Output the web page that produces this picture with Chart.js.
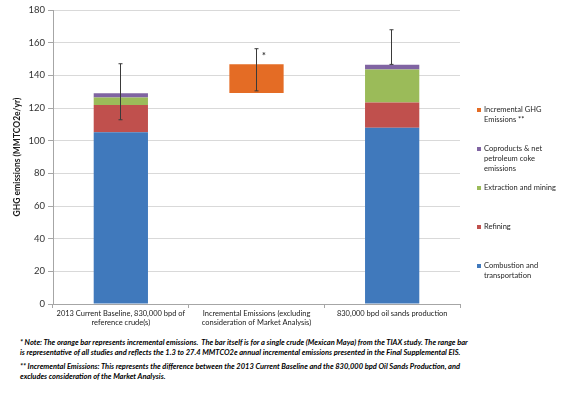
<!DOCTYPE html>
<html><head><meta charset="utf-8">
<script src="https://cdn.jsdelivr.net/npm/chart.js@4/dist/chart.umd.min.js"></script>
<style>
html,body{margin:0;padding:0;background:#fff;}
body{width:577px;height:399px;position:relative;overflow:hidden;font-family:Lato,"Open Sans",sans-serif;}
#wrap{position:absolute;left:0;top:0;width:577px;height:330px;}
.lg{position:absolute;left:484px;font-size:7.5px;line-height:10px;color:#1f1f1f;white-space:nowrap;}
.sw{position:absolute;left:-7px;top:3px;width:4px;height:4px;}
.fn{position:absolute;left:20px;font-size:7.5px;line-height:10px;font-style:italic;font-weight:bold;color:#000;white-space:nowrap;}
</style></head>
<body>
<div id="wrap"><canvas id="c"></canvas></div>
<div id="legend"></div>
<div class="fn" style="top:338px">* Note: The orange bar represents incremental emissions.&nbsp; The bar itself is for a single crude (Mexican Maya) from the TIAX study. The range bar<br>is representative of all studies and reflects the 1.3 to 27.4 MMTCO2e annual incremental emissions presented in the Final Supplemental EIS.</div>
<div class="fn" style="top:362px">** Incremental Emissions: This represents the difference between the 2013 Current Baseline and the 830,000 bpd Oil Sands Production, and<br>excludes consideration of the Market Analysis.</div>
<script>
const categories = [
  ['2013 Current Baseline, 830,000 bpd of', 'reference crude(s)'],
  ['Incremental Emissions (excluding', 'consideration of Market Analysis)'],
  ['830,000 bpd oil sands production']
];
const combustion = [105.1, null, 107.9];
const refining = [16.7, null, 15.5];
const extraction = [4.7, null, 20.2];
const coproducts = [2.6, null, 2.9];
const incremental = [null, [129.2, 146.8], null];
const errLow = [112.8, 130.5, 146.7];
const errHigh = [147.1, 156.3, 167.9];
const starValue = [null, 152, null];
const yTicks = [0, 20, 40, 60, 80, 100, 120, 140, 160, 180];

const legendItems = [
  {label: ['Incremental GHG', 'Emissions **'], color: '#e46c25', top: 105},
  {label: ['Coproducts & net', 'petroleum coke', 'emissions'], color: '#8064a2', top: 144},
  {label: ['Extraction and mining'], color: '#9bbb59', top: 183},
  {label: ['Refining'], color: '#c0504d', top: 222},
  {label: ['Combustion and', 'transportation'], color: '#4079bc', top: 261}
];
const lg = document.getElementById('legend');
legendItems.forEach(it => {
  const d = document.createElement('div');
  d.className = 'lg';
  d.style.top = it.top + 'px';
  d.innerHTML = '<span class="sw" style="background:' + it.color + '"></span>' + it.label.join('<br>');
  lg.appendChild(d);
});

const errorBars = {
  id: 'errorBars',
  afterDatasetsDraw(chart) {
    const ctx = chart.ctx, xs = chart.scales.x, ys = chart.scales.y;
    ctx.save();
    ctx.strokeStyle = '#3a3a3a';
    ctx.lineWidth = 1;
    for (let i = 0; i < errLow.length; i++) {
      const x = Math.round(xs.getPixelForValue(i)) - 0.5;
      const y1 = ys.getPixelForValue(errLow[i]);
      const y2 = ys.getPixelForValue(errHigh[i]);
      ctx.beginPath();
      ctx.moveTo(x, y1); ctx.lineTo(x, y2);
      ctx.moveTo(x - 2, y1); ctx.lineTo(x + 2, y1);
      ctx.moveTo(x - 2, y2); ctx.lineTo(x + 2, y2);
      ctx.stroke();
    }
    ctx.fillStyle = '#333';
    ctx.font = 'bold 9px Lato';
    ctx.textAlign = 'center';
    ctx.textBaseline = 'middle';
    starValue.forEach((v, i) => {
      if (v == null) return;
      ctx.fillText('*', xs.getPixelForValue(i) + 7.5, ys.getPixelForValue(v));
    });
    ctx.restore();
  }
};

new Chart(document.getElementById('c'), {
  type: 'bar',
  data: {
    labels: categories,
    datasets: [
      {label: 'Combustion and transportation', data: combustion, backgroundColor: '#4079bc'},
      {label: 'Refining', data: refining, backgroundColor: '#c0504d'},
      {label: 'Extraction and mining', data: extraction, backgroundColor: '#9bbb59'},
      {label: 'Coproducts & net petroleum coke emissions', data: coproducts, backgroundColor: '#8064a2'},
      {label: 'Incremental GHG Emissions **', data: incremental, backgroundColor: '#e46c25'}
    ]
  },
  options: {
    responsive: true,
    maintainAspectRatio: false,
    animation: false,
    datasets: {bar: {barPercentage: 0.4, categoryPercentage: 1, borderWidth: 0}},
    layout: {padding: {left: 0, right: 117, top: 10, bottom: 0}},
    plugins: {legend: {display: false}, tooltip: {enabled: false}},
    scales: {
      x: {
        stacked: true,
        grid: {drawOnChartArea: false, drawTicks: true, tickLength: 4, color: '#a6a6a6', offset: true},
        border: {color: '#a6a6a6'},
        ticks: {font: {family: 'Lato', size: 7.5}, color: '#1a1a1a', padding: 1, maxRotation: 0, autoSkip: false},
        afterFit(s) { s.height = 26; }
      },
      y: {
        stacked: true,
        min: 0, max: 180,
        afterBuildTicks(s) { s.ticks = yTicks.map(v => ({value: v})); },
        grid: {color: '#d9d9d9', tickLength: 5, tickColor: '#a6a6a6'},
        border: {color: '#a6a6a6'},
        ticks: {font: {family: 'Lato', size: 9.5}, color: '#333', padding: 3},
        title: {display: true, text: 'GHG emissions (MMTCO2e/yr)', font: {family: 'Lato', size: 8.5, weight: 'bold'}, color: '#1a1a1a', padding: {top: 12, bottom: 0}},
        afterFit(s) { s.width = 53; }
      }
    }
  },
  plugins: [errorBars]
});
</script>
</body></html>
